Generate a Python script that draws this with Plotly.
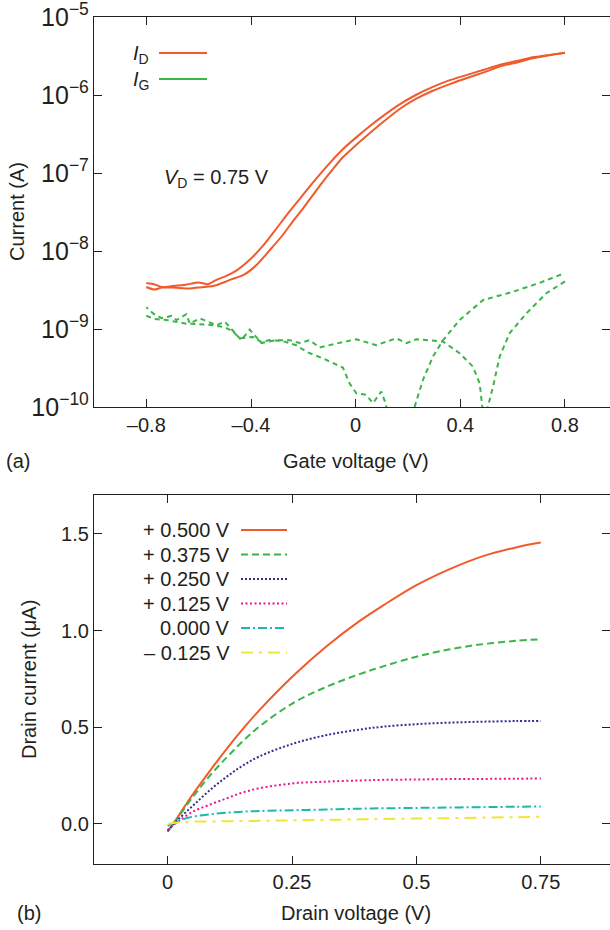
import plotly.graph_objects as go

# ---------------- data: panel (a) transfer curves ----------------
vg_id_up = [-0.80, -0.77, -0.74, -0.70, -0.65, -0.60, -0.565, -0.53, -0.50, -0.456, -0.405, -0.354,
            -0.30, -0.252, -0.20, -0.15, -0.10, -0.05, 0.0, 0.05, 0.10, 0.168, 0.23, 0.295, 0.36,
            0.423, 0.49, 0.55, 0.62, 0.677, 0.74, 0.80]
id_up = [3.9e-9, 3.75e-9, 3.45e-9, 3.55e-9, 3.7e-9, 3.95e-9, 3.75e-9, 4.3e-9, 4.7e-9, 5.6e-9, 7.7e-9, 1.17e-8,
         2.0e-8, 3.24e-8, 5.31e-8, 8.51e-8, 1.33e-7, 2.0e-7, 2.82e-7, 3.89e-7, 5.25e-7, 7.59e-7, 1.0e-6, 1.27e-6, 1.55e-6,
         1.8e-6, 2.11e-6, 2.43e-6, 2.75e-6, 3.04e-6, 3.27e-6, 3.49e-6]

vg_id_dn = [-0.80, -0.77, -0.74, -0.70, -0.634, -0.60, -0.545, -0.50, -0.481, -0.43, -0.379, -0.329,
            -0.28, -0.24, -0.20, -0.15, -0.125, -0.087, -0.05, 0.0, 0.05, 0.10, 0.168, 0.23, 0.295,
            0.36, 0.423, 0.49, 0.55, 0.62, 0.677, 0.74, 0.80]
id_dn = [3.45e-9, 3.2e-9, 3.4e-9, 3.4e-9, 3.3e-9, 3.4e-9, 3.55e-9, 4.0e-9, 4.27e-9, 4.9e-9, 6.6e-9, 1.02e-8,
         1.58e-8, 2.4e-8, 3.55e-8, 6.0e-8, 7.76e-8, 1.12e-7, 1.58e-7, 2.26e-7, 3.16e-7, 4.37e-7, 6.61e-7, 8.9e-7, 1.135e-6,
         1.38e-6, 1.64e-6, 1.95e-6, 2.31e-6, 2.63e-6, 2.95e-6, 3.24e-6, 3.49e-6]

vg_ig_fwd = [-0.80, -0.77, -0.723, -0.69, -0.647, -0.60, -0.545, -0.50, -0.469, -0.443, -0.392, -0.36, -0.329,
             -0.28, -0.227, -0.188, -0.125, -0.049, -0.023, 0.0025, 0.04, 0.066, 0.098, 0.115, 0.13, 0.20,
             0.225, 0.257, 0.295, 0.334, 0.397, 0.486, 0.601, 0.703, 0.798]
ig_fwd = [1.48e-9, 1.35e-9, 1.30e-9, 1.25e-9, 1.17e-9, 1.15e-9, 1.12e-9, 1.05e-9, 9.3e-10, 7.6e-10, 7.9e-10, 6.8e-10, 7.2e-10,
          7.0e-10, 6.2e-10, 5.1e-10, 4.2e-10, 3.2e-10, 2.0e-10, 1.5e-10, 1.43e-10, 1.12e-10, 1.58e-10, 1.1e-10, 6e-11, 5e-11,
          1.0e-10, 2.22e-10, 4.4e-10, 7.2e-10, 1.30e-9, 2.34e-9, 3.0e-9, 3.9e-9, 5.2e-9]

vg_ig_rev = [0.80, 0.729, 0.652, 0.588, 0.55, 0.525, 0.505, 0.495, 0.484, 0.474, 0.448, 0.397, 0.334, 0.28,
             0.232, 0.194, 0.155, 0.079, 0.0025, -0.074, -0.138, -0.176, -0.214, -0.252, -0.303, -0.36,
             -0.405, -0.437, -0.50, -0.532, -0.596, -0.634, -0.647, -0.685, -0.704, -0.742, -0.774, -0.80]
ig_rev = [4.07e-9, 2.88e-9, 1.58e-9, 8.8e-10, 4.4e-10, 1.82e-10, 1.0e-10, 5e-11, 1.0e-10, 2.0e-10, 3.3e-10, 4.9e-10, 6.9e-10, 7.2e-10,
          7.4e-10, 6.6e-10, 7.6e-10, 6.2e-10, 7.4e-10, 6.5e-10, 5.8e-10, 7.2e-10, 6.6e-10, 7.2e-10, 7.2e-10, 6.6e-10,
          9.8e-10, 7.2e-10, 1.24e-9, 1.12e-9, 1.37e-9, 1.17e-9, 1.55e-9, 1.30e-9, 1.47e-9, 1.38e-9, 1.58e-9, 1.9e-9]

# ---------------- data: panel (b) output curves ----------------
vd = [0.0, 0.02, 0.051, 0.085, 0.119, 0.15, 0.185, 0.252, 0.32, 0.386, 0.433, 0.50, 0.567, 0.634, 0.70, 0.75]
gate_labels = ["+ 0.500 V", "+ 0.375 V", "+ 0.250 V", "+ 0.125 V", "0.000 V", "\u2013 0.125 V"]
id_p500 = [-0.04, 0.035, 0.155, 0.275, 0.39, 0.488, 0.59, 0.765, 0.92, 1.05, 1.13, 1.235, 1.318, 1.385, 1.43, 1.455]
id_p375 = [-0.04, 0.03, 0.141, 0.25, 0.345, 0.425, 0.505, 0.625, 0.71, 0.775, 0.815, 0.865, 0.903, 0.93, 0.947, 0.955]
id_p250 = [-0.035, 0.02, 0.095, 0.175, 0.245, 0.30, 0.35, 0.415, 0.46, 0.488, 0.503, 0.516, 0.524, 0.529, 0.532, 0.533]
id_p125 = [-0.03, 0.01, 0.064, 0.10, 0.133, 0.162, 0.185, 0.21, 0.219, 0.225, 0.228, 0.23, 0.232, 0.233, 0.234, 0.235]
id_z000 = [-0.01, 0.015, 0.038, 0.05, 0.058, 0.063, 0.067, 0.071, 0.075, 0.079, 0.081, 0.083, 0.085, 0.087, 0.089, 0.09]
id_m125 = [0.0, 0.008, 0.012, 0.013, 0.014, 0.015, 0.016, 0.019, 0.021, 0.024, 0.026, 0.028, 0.030, 0.033, 0.035, 0.038]
series_b = [id_p500, id_p375, id_p250, id_p125, id_z000, id_m125]

# ---------------- styles ----------------
RED = "#F15A2B"
GREEN = "#3BB54A"
colors_b = [RED, GREEN, "#2E3192", "#E8168B", "#1CB8AC", "#F4E532"]
dashes_b = ["solid", "7px,4px", "2px,2px", "2px,2.5px", "9px,3px,2px,3px", "12px,6px,3px,6px"]
FONT = "Liberation Sans, Arial, Helvetica, sans-serif"
INK = "#231F20"
W, H = 610, 930

def px(x):
    return x / W

def py(y):
    return 1 - y / H

fig = go.Figure()

fig.add_trace(go.Scatter(x=vg_id_up, y=id_up, mode="lines",
                         line=dict(color=RED, width=2, shape="spline", smoothing=0.6),
                         xaxis="x", yaxis="y", showlegend=False))
fig.add_trace(go.Scatter(x=vg_id_dn, y=id_dn, mode="lines",
                         line=dict(color=RED, width=2, shape="spline", smoothing=0.6),
                         xaxis="x", yaxis="y", showlegend=False))
fig.add_trace(go.Scatter(x=vg_ig_fwd, y=ig_fwd, mode="lines", line=dict(color=GREEN, width=2, dash="5px,4px"),
                         xaxis="x", yaxis="y", showlegend=False))
fig.add_trace(go.Scatter(x=vg_ig_rev, y=ig_rev, mode="lines", line=dict(color=GREEN, width=2, dash="5px,4px"),
                         xaxis="x", yaxis="y", showlegend=False))

for s, c, d in zip(series_b, colors_b, dashes_b):
    fig.add_trace(go.Scatter(x=vd, y=s, mode="lines", line=dict(color=c, width=2, dash=d, shape="spline"),
                             xaxis="x2", yaxis="y2", showlegend=False))

axis_common = dict(showline=True, linecolor=INK, linewidth=1.3, mirror="ticks", ticks="inside",
                   ticklen=8, tickwidth=1.2, tickcolor=INK, showgrid=False, zeroline=False,
                   automargin=False, ticklabeloverflow="allow",
                   tickfont=dict(family=FONT, size=20, color=INK))

fig.update_layout(
    width=W, height=H, margin=dict(l=0, r=0, t=0, b=0),
    paper_bgcolor="white", plot_bgcolor="white", showlegend=False,
    xaxis=dict(domain=[94 / W, 1.0], range=[-1.0, 0.972], tickvals=[-0.8, -0.4, 0, 0.4, 0.8],
               ticktext=["\u20130.8", "\u20130.4", "0", "0.4", "0.8"], anchor="y", **axis_common),
    yaxis=dict(domain=[py(407), py(17)], type="log", range=[-10, -5], dtick=1,
               exponentformat="power", anchor="x", **axis_common),
    xaxis2=dict(domain=[94 / W, 1.0], range=[-0.148, 0.889], tickvals=[0, 0.25, 0.5, 0.75],
                ticktext=["0", "0.25", "0.5", "0.75"], anchor="y2", **axis_common),
    yaxis2=dict(domain=[py(864), py(495)], range=[-0.207, 1.701], tickvals=[0, 0.5, 1.0, 1.5],
                ticktext=["0.0", "0.5", "1.0", "1.5"], anchor="x2", **axis_common),
)

ann_font = dict(family=FONT, size=20, color=INK)
annotations = [
    dict(text="(a)", x=px(4), y=py(461), xanchor="left", yanchor="middle"),
    dict(text="Gate voltage (V)", x=px(356), y=py(461), xanchor="center", yanchor="middle"),
    dict(text="Current (A)", x=px(17), y=py(212), textangle=-90, xanchor="center", yanchor="middle"),
    dict(text="(b)", x=px(15), y=py(913), xanchor="left", yanchor="middle"),
    dict(text="Drain voltage (V)", x=px(356), y=py(913), xanchor="center", yanchor="middle"),
    dict(text="Drain current (\u03bcA)", x=px(29), y=py(680), textangle=-90, xanchor="center", yanchor="middle"),
    dict(text="<i>I</i><sub>D</sub>", x=px(131), y=py(55), xanchor="left", yanchor="middle"),
    dict(text="<i>I</i><sub>G</sub>", x=px(131), y=py(80), xanchor="left", yanchor="middle"),
    dict(text="<i>V</i><sub>D</sub> = 0.75 V", x=px(162), y=py(178), xanchor="left", yanchor="middle"),
]
legend_rows_y = [530, 554.5, 579, 603.5, 628, 652.5]
for lab, yy in zip(gate_labels, legend_rows_y):
    annotations.append(dict(text=lab, x=px(232), y=py(yy), xanchor="right", yanchor="middle"))
for a in annotations:
    a.update(xref="paper", yref="paper", showarrow=False, font=ann_font)
fig.update_layout(annotations=annotations)

shapes = [
    dict(type="line", x0=px(159), x1=px(207), y0=py(53), y1=py(53), line=dict(color=RED, width=2)),
    dict(type="line", x0=px(159), x1=px(207), y0=py(79), y1=py(79), line=dict(color=GREEN, width=2)),
]
for c, d, yy in zip(colors_b, dashes_b, legend_rows_y):
    shapes.append(dict(type="line", x0=px(241), x1=px(287), y0=py(yy), y1=py(yy),
                       line=dict(color=c, width=2, dash=d)))
for s in shapes:
    s.update(xref="paper", yref="paper")
fig.update_layout(shapes=shapes)

fig.write_html("out.html", config={"displayModeBar": False},
               post_script="document.body.style.margin='0px';document.body.style.overflow='hidden';")
